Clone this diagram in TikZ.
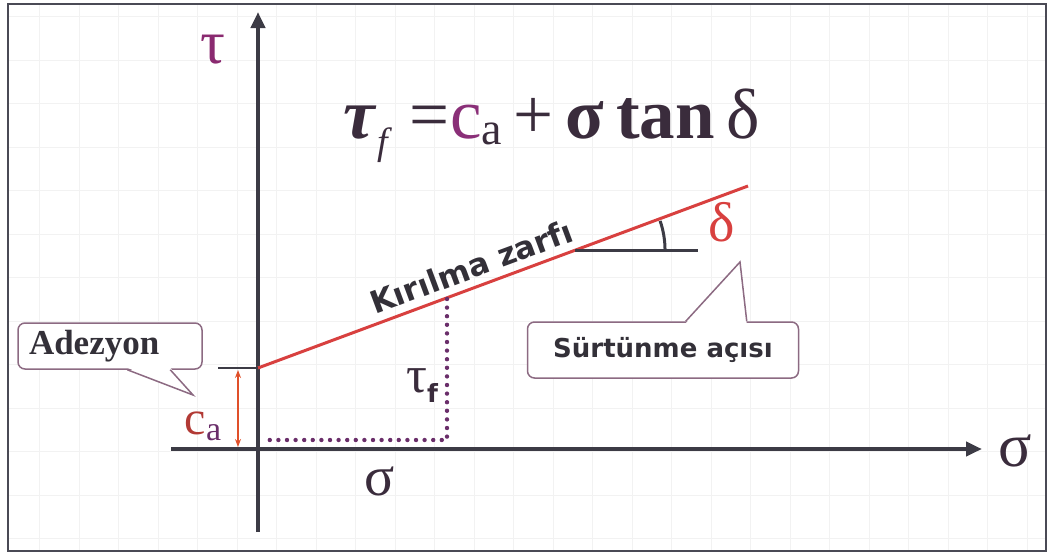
\documentclass[tikz,border=0pt]{standalone}
\usepackage{fontspec}
\setmainfont{Liberation Serif}
\newfontfamily\verdana{DejaVu Sans}
\usetikzlibrary{arrows.meta, positioning, calc}
\definecolor{axisgray}{HTML}{3C3B45}
\definecolor{framegray}{HTML}{4A4A55}
\definecolor{envred}{HTML}{D8403F}
\definecolor{dotpurple}{HTML}{6A2E6A}
\definecolor{boxpurple}{HTML}{8C6A82}
\definecolor{formulagray}{HTML}{3A2C3C}
\definecolor{capurple}{HTML}{8A2F78}
\definecolor{cared}{HTML}{B23A35}
\definecolor{taupurple}{HTML}{8A2A70}
\definecolor{textdark}{HTML}{333038}
\definecolor{arrorange}{HTML}{E0502A}

\begin{document}
\begin{tikzpicture}[
    x=1pt, y=-1pt,
    gridline/.style={draw=black!5, line width=0.8pt},
    axis/.style={line width=4pt, draw=axisgray, -{Triangle[length=16pt,width=14pt]}},
    envelope/.style={line width=3pt, draw=envred},
    guide/.style={line width=4.4pt, draw=dotpurple, dash pattern=on 0pt off 8.6pt, line cap=round},
    bubble/.style={draw=boxpurple, line width=1.5pt, rounded corners=7pt, fill=white, text=textdark},
    pointer/.style={draw=boxpurple, line width=1.5pt, fill=white},
    greek/.style={inner sep=0pt}
]
\useasboundingbox (0,0) rectangle (1049,554);

% Background grid and frame
\foreach \gx in {1,...,26}
    \draw[gridline] ({39.5*\gx},5) -- ({39.5*\gx},550);
\foreach \gy in {0,...,12}
    \draw[gridline] (9,{16.5+43.5*\gy}) -- (1045,{16.5+43.5*\gy});
\draw[line width=2pt, draw=framegray] (8,4) rectangle (1046,551);

% Axes
\coordinate (ytip) at (258,12);
\coordinate (ybot) at (258,532);
\coordinate (xleft) at (171,449);
\coordinate (xtip) at (982,449);
\draw[axis] (ybot) -- (ytip);
\draw[axis] (xleft) -- (xtip);
\node[greek, font=\fontsize{62}{62}\selectfont, text=taupurple] (taulbl) at (213,50) {τ};
\node[greek, font=\fontsize{62}{62}\selectfont, text=formulagray] (sigmalbl) at (1015,451) {σ};

% Failure envelope
\coordinate (c0) at (258,368);
\coordinate (c1) at (748,186);
\draw[envelope] (c0) -- (c1) node[pos=0.45, sloped, above=7pt, inner sep=0pt, font=\verdana\bfseries\fontsize{31}{31}\selectfont, text=textdark] (envlbl) {Kırılma zarfı};

% Dotted stress guides
\coordinate (tf) at (447,299);
\coordinate (tfb) at (447,440);
\coordinate (sb) at (265,440);
\draw[guide] (tf) -- (tfb) -- (sb);
\node[greek, font=\fontsize{52}{52}\selectfont, text=formulagray] (taufl) at (422,386) {τ\raisebox{-10pt}{\verdana\bfseries\fontsize{25}{25}\selectfont f}};
\node[greek, font=\fontsize{56}{56}\selectfont, text=formulagray] (sigmaval) at (380,481) {σ};

% Adhesion c_a
\coordinate (cat) at (238,370);
\coordinate (cab) at (238,447);
\draw[line width=2pt, draw=axisgray] (218,368) -- (c0);
\draw[line width=2.4pt, draw=arrorange, {Stealth[length=8pt,width=6pt]}-{Stealth[length=8pt,width=6pt]}] (cat) -- (cab);
\node[greek, font=\fontsize{48}{48}\selectfont] (calbl) at (203,426) {\textcolor{cared}{c}\raisebox{-6pt}{\textcolor{dotpurple}{\fontsize{34}{34}\selectfont a}}};

% Friction angle
\coordinate (a0) at ($(c0)!0.647!(c1)$);
\draw[line width=3pt, draw=axisgray] (a0) -- ++(123,0) coordinate (a1);
\draw[line width=3pt, draw=axisgray] (a0) ++(90,0) arc[start angle=0, end angle=-19, radius=90];
\node[greek, font=\fontsize{56}{56}\selectfont, text=envred] (delta) at (722,222) {δ};

% Formula
\node[greek, font=\fontsize{71}{71}\selectfont, text=formulagray] (law) at (552,126)
    {\textbf{\textit{τ}}\raisebox{-16pt}{\fontsize{38}{38}\selectfont\textit{f}}\ =\textcolor{capurple}{c}\raisebox{-6pt}{\fontsize{46}{46}\selectfont a}\,+\,\textbf{σ}\,\textbf{tan}\,δ};

% Callouts
\node[bubble, minimum height=46pt, inner xsep=11pt, text width=162pt, align=left,
    font=\bfseries\fontsize{35}{35}\selectfont] (adh) at (110,346) {Adezyon};
\fill[white] ($(adh.south west)+(110,-2)$) -- (193,395) -- ($(adh.south west)+(153,-2)$) -- cycle;
\draw[pointer, fill=none] ($(adh.south west)+(110,0)$) -- (193,395) -- ($(adh.south west)+(153,0)$);

\node[bubble, minimum width=271pt, minimum height=56pt, font=\verdana\bfseries\fontsize{26}{26}\selectfont] (fric) at (663,350) {Sürtünme açısı};
\fill[white] ($(fric.north west)+(159,2)$) -- (740,262) -- ($(fric.north west)+(220,2)$) -- cycle;
\draw[pointer, fill=none] ($(fric.north west)+(159,0)$) -- (740,262) -- ($(fric.north west)+(220,0)$);

\end{tikzpicture}
\end{document}
